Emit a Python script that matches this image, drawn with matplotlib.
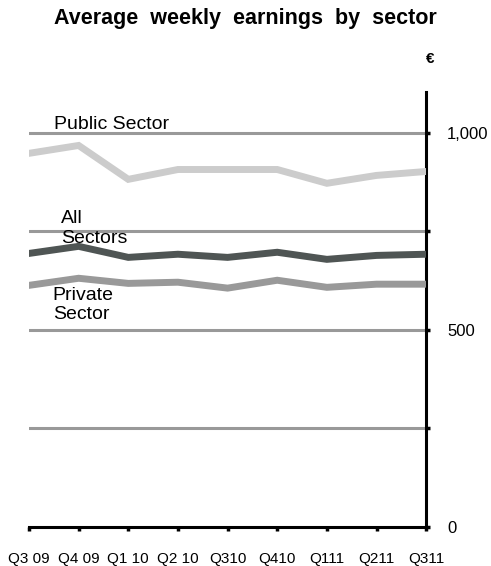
import matplotlib
matplotlib.use("Agg")
import matplotlib.pyplot as plt

plt.rcParams['font.family'] = ['Liberation Sans', 'DejaVu Sans']

# Datos (euros por semana)
quarters = ["Q3 09", "Q4 09", "Q1 10", "Q2 10", "Q310", "Q410", "Q111", "Q211", "Q311"]
public_sector = [948, 968, 882, 907, 907, 907, 872, 892, 902]
all_sectors = [694, 712, 684, 692, 684, 697, 679, 689, 692]
private_sector = [613, 631, 618, 621, 606, 626, 608, 616, 616]

grid_levels = [250, 500, 750, 1000]

fig = plt.figure(figsize=(4.91, 5.66), dpi=100)
ax = fig.add_axes([0.059, 0.069, 0.809, 0.768])

x = list(range(len(quarters)))

# Líneas de referencia horizontales
for g in grid_levels:
    ax.axhline(g, color="#999999", lw=2.2, zorder=1)

ax.plot(x, public_sector, color="#cccccc", lw=5, zorder=3, solid_joinstyle="miter")
ax.plot(x, all_sectors, color="#4f5554", lw=5, zorder=3, solid_joinstyle="miter")
ax.plot(x, private_sector, color="#999999", lw=5, zorder=3, solid_joinstyle="miter")

# Etiquetas de las series
ax.text(0.5, 1021, "Public Sector", fontsize=14, va="center", ha="left", zorder=2)
ax.text(0.65, 758, "All\nSectors", fontsize=14, va="center", ha="left",
        linespacing=1.2, zorder=2)
ax.text(0.48, 563, "Private\nSector", fontsize=14, va="center", ha="left",
        linespacing=1.15, zorder=2)

ax.set_xlim(0, len(quarters) - 1)
ax.set_ylim(0, 1103)

# Ejes: solo derecho e inferior
ax.spines["left"].set_visible(False)
ax.spines["top"].set_visible(False)
ax.spines["right"].set_linewidth(2.2)
ax.spines["bottom"].set_linewidth(2.2)

ax.set_xticks(x)
ax.set_xticklabels(quarters, fontsize=11)
ax.yaxis.tick_right()
ax.set_yticks([0, 500, 1000])
ax.set_yticklabels(["0", "500", "1,000"], fontsize=12)
ax.set_yticks([250, 750], minor=True)
ax.tick_params(axis="x", direction="out", length=3, width=2.5, pad=15)
ax.tick_params(axis="y", which="both", direction="out", length=3, width=2.5, pad=12)
ax.tick_params(axis="y", which="minor", labelright=False)

fig.text(0.5, 0.968, "Average  weekly  earnings  by  sector", fontsize=15.5,
         fontweight="bold", ha="center", va="center")
fig.text(0.876, 0.896, "€", fontsize=11, fontweight="bold", ha="center", va="center")

fig.savefig("out.png", dpi=100)
